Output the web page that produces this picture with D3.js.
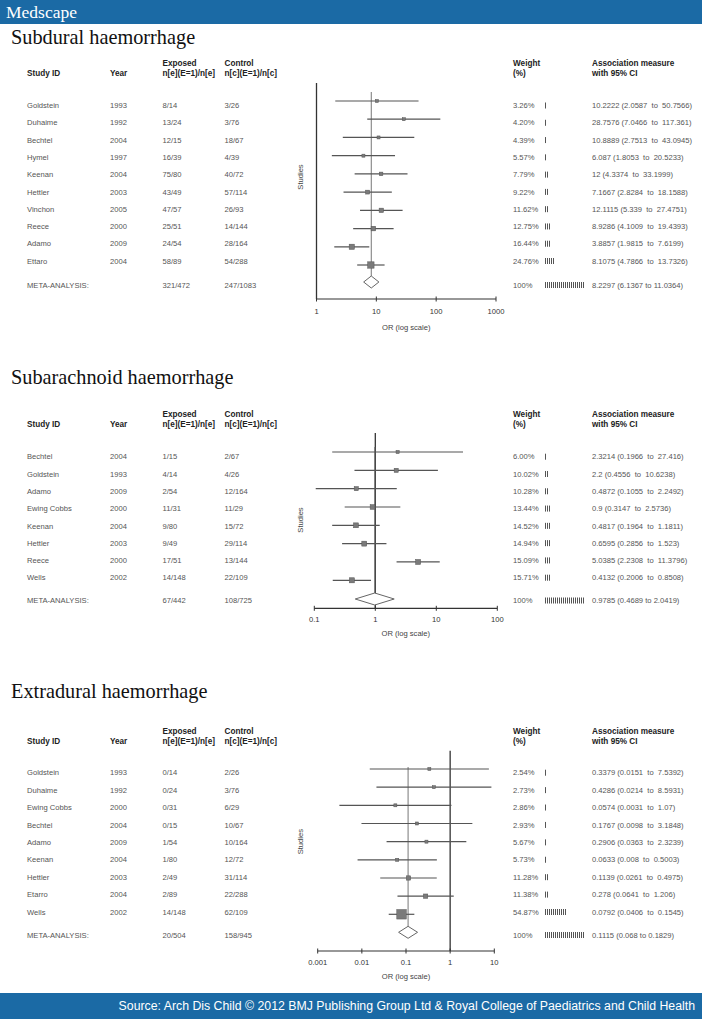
<!DOCTYPE html>
<html><head><meta charset="utf-8">
<script src="https://cdn.jsdelivr.net/npm/d3@7"></script>
<style>body{margin:0;background:#fff} svg{display:block} text{white-space:pre}</style>
</head><body><svg id="c" width="702" height="1019"></svg>
<script>
// ---------- Subdural haemorrhage ----------
const sdStudies = ["Goldstein","Duhaime","Bechtel","Hymel","Keenan","Hettler","Vinchon","Reece","Adamo","Ettaro"];
const sdYears   = ["1993","1992","2004","1997","2004","2003","2005","2000","2009","2004"];
const sdExposed = ["8/14","13/24","12/15","16/39","75/80","43/49","47/57","25/51","24/54","58/89"];
const sdControl = ["3/26","3/76","18/67","4/39","40/72","57/114","26/93","14/144","28/164","54/288"];
const sdWeight  = [3.26,4.20,4.39,5.57,7.79,9.22,11.62,12.75,16.44,24.76];
const sdOR      = [10.2222,28.7576,10.8889,6.087,12,7.1667,12.1115,8.9286,3.8857,8.1075];
const sdLo      = [2.0587,7.0466,2.7513,1.8053,4.3374,2.8284,5.339,4.1009,1.9815,4.7866];
const sdHi      = [50.7566,117.361,43.0945,20.5233,33.1999,18.1588,27.4751,19.4393,7.6199,13.7326];
const sdMetaCounts = ["321/472","247/1083"];
const sdMetaEst = [8.2297,6.1367,11.0364];
const sdTicks = [1,10,100,1000];
const sdTickLabels = ["1","10","100","1000"];

// ---------- Subarachnoid haemorrhage ----------
const saStudies = ["Bechtel","Goldstein","Adamo","Ewing Cobbs","Keenan","Hettler","Reece","Wells"];
const saYears   = ["2004","1993","2009","2000","2004","2003","2000","2002"];
const saExposed = ["1/15","4/14","2/54","11/31","9/80","9/49","17/51","14/148"];
const saControl = ["2/67","4/26","12/164","11/29","15/72","29/114","13/144","22/109"];
const saWeight  = [6.00,10.02,10.28,13.44,14.52,14.94,15.09,15.71];
const saOR      = [2.3214,2.2,0.4872,0.9,0.4817,0.6595,5.0385,0.4132];
const saLo      = [0.1966,0.4556,0.1055,0.3147,0.1964,0.2856,2.2308,0.2006];
const saHi      = [27.416,10.6238,2.2492,2.5736,1.1811,1.523,11.3796,0.8508];
const saMetaCounts = ["67/442","108/725"];
const saMetaEst = [0.9785,0.4689,2.0419];
const saTicks = [0.1,1,10,100];
const saTickLabels = ["0.1","1","10","100"];

// ---------- Extradural haemorrhage ----------
const edStudies = ["Goldstein","Duhaime","Ewing Cobbs","Bechtel","Adamo","Keenan","Hettler","Etarro","Wells"];
const edYears   = ["1993","1992","2000","2004","2009","2004","2003","2004","2002"];
const edExposed = ["0/14","0/24","0/31","0/15","1/54","1/80","2/49","2/89","14/148"];
const edControl = ["2/26","3/76","6/29","10/67","10/164","12/72","31/114","22/288","62/109"];
const edWeight  = [2.54,2.73,2.86,2.93,5.67,5.73,11.28,11.38,54.87];
const edOR      = [0.3379,0.4286,0.0574,0.1767,0.2906,0.0633,0.1139,0.278,0.0792];
const edLo      = [0.0151,0.0214,0.0031,0.0098,0.0363,0.008,0.0261,0.0641,0.0406];
const edHi      = [7.5392,8.5931,1.07,3.1848,2.3239,0.5003,0.4975,1.206,0.1545];
const edMetaCounts = ["20/504","158/945"];
const edMetaEst = [0.1115,0.068,0.1829];
const edTicks = [0.001,0.01,0.1,1,10];
const edTickLabels = ["0.001","0.01","0.1","1","10"];

const titles = ["Subdural haemorrhage","Subarachnoid haemorrhage","Extradural haemorrhage"];
const sourceText = "Source: Arch Dis Child \u00A9 2012 BMJ Publishing Group Ltd & Royal College of Paediatrics and Child Health";

// ---------- layout ----------
const SANS = "Liberation Sans, Arial, Helvetica, sans-serif";
const SERIF = "Liberation Serif, Times New Roman, serif";
const BLUE = "#1b6aa5";
const col = {study:27, year:110, exp:162.5, ctrl:224.5, weight:513, glyph:545, assoc:592, studiesLbl:300};

const layouts = [
  {title:43.5, h1:63, h2:73.5, t0:105.5, tN:261, tMeta:285, p0:101, pN:265, pMeta:282,
   axisY:299, xr:[316.5,496], nullTop:83, pooledTop:92, tickLbl:311.5, orLbl:327, studiesY:177},
  {title:383.5, h1:414, h2:424.5, t0:456.7, tN:577.7, tMeta:600.5, p0:452, pN:580.3, pMeta:599,
   axisY:608.3, xr:[314.3,497.3], nullTop:433, pooledTop:447, tickLbl:619.5, orLbl:633, studiesY:520},
  {title:698.3, h1:731.3, h2:741.3, t0:772.7, tN:912, tMeta:935, p0:769, pN:914.3, pMeta:932.3,
   axisY:951, xr:[317.7,494.3], nullTop:750.7, pooledTop:767, tickLbl:962, orLbl:976.7, studiesY:841.7}
];

const panels = [
  {studies:sdStudies, years:sdYears, exposed:sdExposed, control:sdControl, weight:sdWeight, or:sdOR, lo:sdLo, hi:sdHi,
   metaCounts:sdMetaCounts, metaEst:sdMetaEst, ticks:sdTicks, tickLabels:sdTickLabels},
  {studies:saStudies, years:saYears, exposed:saExposed, control:saControl, weight:saWeight, or:saOR, lo:saLo, hi:saHi,
   metaCounts:saMetaCounts, metaEst:saMetaEst, ticks:saTicks, tickLabels:saTickLabels},
  {studies:edStudies, years:edYears, exposed:edExposed, control:edControl, weight:edWeight, or:edOR, lo:edLo, hi:edHi,
   metaCounts:edMetaCounts, metaEst:edMetaEst, ticks:edTicks, tickLabels:edTickLabels}
];

const svg = d3.select("#c");

// header / footer bars
svg.append("rect").attr("x",0).attr("y",0).attr("width",702).attr("height",24).attr("fill",BLUE);
svg.append("text").attr("x",6).attr("y",17.5).text("Medscape")
  .attr("font-family",SERIF).attr("font-size",17.5).attr("fill","#fff");
svg.append("rect").attr("x",0).attr("y",993).attr("width",702).attr("height",26).attr("fill",BLUE);
svg.append("text").attr("x",695).attr("y",1010).attr("text-anchor","end").text(sourceText)
  .attr("font-family",SANS).attr("font-size",12.3).attr("fill","#fff");

const squareSide = d3.scaleSqrt().domain([0,55]).range([0,9.5]);
const glyphW = d3.scaleLinear().domain([0,100]).range([0,40]);

function txt(g, x, y, s, opts={}) {
  return g.append("text").attr("x",x).attr("y",y).attr("dy","0.35em").text(s)
    .attr("font-family",SANS).attr("font-size",opts.size||(opts.bold?8.2:7.6))
    .attr("font-weight",opts.bold?"bold":"normal")
    .attr("fill",opts.fill||(opts.bold?"#222":"#555"))
    .attr("text-anchor",opts.anchor||"start");
}

function glyph(g, x, y, w) {
  const n = Math.max(1, Math.round(glyphW(w)/2));
  g.append("g").selectAll("rect").data(d3.range(n)).join("rect")
    .attr("x",i=>x+i*2).attr("y",y-3).attr("width",1).attr("height",6).attr("fill","#555");
}

panels.forEach((P, k) => {
  const L = layouts[k];
  const g = svg.append("g");
  const n = P.studies.length;

  g.append("text").attr("x",11).attr("y",L.title).text(titles[k])
    .attr("font-family",SERIF).attr("font-size",20.3).attr("fill","#111");

  // headers
  txt(g, col.study, L.h2, "Study ID", {bold:true});
  txt(g, col.year, L.h2, "Year", {bold:true});
  txt(g, col.exp, L.h1, "Exposed", {bold:true});
  txt(g, col.exp, L.h2, "n[e](E=1)/n[e]", {bold:true});
  txt(g, col.ctrl, L.h1, "Control", {bold:true});
  txt(g, col.ctrl, L.h2, "n[c](E=1)/n[c]", {bold:true});
  txt(g, col.weight, L.h1, "Weight", {bold:true});
  txt(g, col.weight, L.h2, "(%)", {bold:true});
  txt(g, col.assoc, L.h1, "Association measure", {bold:true});
  txt(g, col.assoc, L.h2, "with 95% CI", {bold:true});

  const ty = d3.scaleLinear().domain([0,n-1]).range([L.t0,L.tN]);
  const py = d3.scaleLinear().domain([0,n-1]).range([L.p0,L.pN]);
  const x = d3.scaleLog().domain([P.ticks[0], P.ticks[P.ticks.length-1]]).range(L.xr);

  for (let i=0;i<n;i++) {
    const y = ty(i);
    txt(g, col.study, y, P.studies[i]);
    txt(g, col.year, y, P.years[i]);
    txt(g, col.exp, y, P.exposed[i]);
    txt(g, col.ctrl, y, P.control[i]);
    txt(g, col.weight, y, P.weight[i].toFixed(2)+"%");
    glyph(g, col.glyph, y, P.weight[i]);
    txt(g, col.assoc, y, `${P.or[i]} (${P.lo[i]}  to  ${P.hi[i]})`);
  }
  txt(g, col.study, L.tMeta, "META-ANALYSIS:");
  txt(g, col.exp, L.tMeta, P.metaCounts[0]);
  txt(g, col.ctrl, L.tMeta, P.metaCounts[1]);
  txt(g, col.weight, L.tMeta, "100%");
  glyph(g, col.glyph, L.tMeta, 100);
  txt(g, col.assoc, L.tMeta, `${P.metaEst[0]} (${P.metaEst[1]} to ${P.metaEst[2]})`);

  // plot: axis
  const axisG = g.append("g").attr("transform",`translate(0,${L.axisY})`);
  axisG.append("line").attr("x1",L.xr[0]).attr("x2",L.xr[1]).attr("y1",0).attr("y2",0)
    .attr("stroke","#333").attr("stroke-width",1.2);
  axisG.selectAll("line.tk").data(P.ticks).join("line").attr("class","tk")
    .attr("x1",d=>x(d)).attr("x2",d=>x(d)).attr("y1",-2.5).attr("y2",2.5)
    .attr("stroke","#333").attr("stroke-width",1);
  P.ticks.forEach((t,j)=> txt(g, x(t), L.tickLbl, P.tickLabels[j], {anchor:"middle", fill:"#333", size:7.6}));
  txt(g, (L.xr[0]+L.xr[1])/2, L.orLbl, "OR (log scale)", {anchor:"middle", fill:"#444", size:7.6});
  g.append("text").attr("transform",`translate(${col.studiesLbl},${L.studiesY}) rotate(-90)`)
    .attr("dy","0.35em").attr("text-anchor","middle").text("Studies")
    .attr("font-family",SANS).attr("font-size",7.6).attr("fill","#444");

  // null line
  g.append("line").attr("x1",x(1)).attr("x2",x(1)).attr("y1",L.nullTop).attr("y2",L.axisY)
    .attr("stroke","#333").attr("stroke-width",1.3);

  // pooled estimate line
  g.append("line").attr("x1",x(P.metaEst[0])).attr("x2",x(P.metaEst[0]))
    .attr("y1",L.pooledTop).attr("y2",L.pMeta-6)
    .attr("stroke","#777").attr("stroke-width",1);

  // CIs and squares
  for (let i=0;i<n;i++) {
    const y = py(i);
    g.append("line").attr("x1",x(P.lo[i])).attr("x2",x(P.hi[i])).attr("y1",y).attr("y2",y)
      .attr("stroke","#555").attr("stroke-width",1.2);
    const s = Math.max(3, squareSide(P.weight[i]));
    g.append("rect").attr("x",x(P.or[i])-s/2).attr("y",y-s/2).attr("width",s).attr("height",s)
      .attr("fill","#7a7a7a").attr("stroke","#555").attr("stroke-width",0.5);
  }

  // diamond
  const dy = L.pMeta, h = 6;
  const pts = [[x(P.metaEst[1]),dy],[x(P.metaEst[0]),dy-h],[x(P.metaEst[2]),dy],[x(P.metaEst[0]),dy+h]];
  g.append("polygon").attr("points",pts.map(p=>p.join(",")).join(" "))
    .attr("fill","#fff").attr("stroke","#666").attr("stroke-width",1);
});
</script>
</body></html>
